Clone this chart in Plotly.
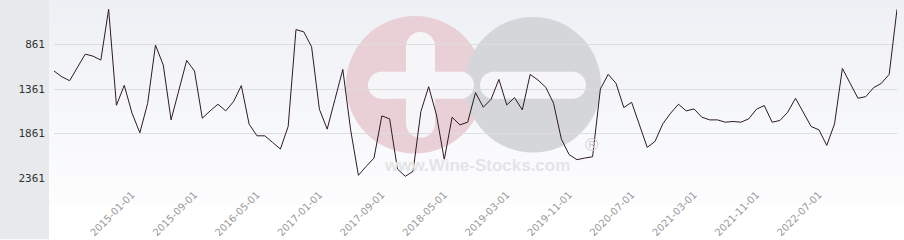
import pandas as pd
import plotly.graph_objects as go

# ---- data ----
RANK = [
    1159, 1223, 1268, 1111, 969, 992, 1036, 466, 1544, 1320,
    1633, 1853, 1521, 868, 1092, 1708, 1372, 1040, 1159, 1689,
    1607, 1532, 1607, 1503, 1323, 1756, 1887, 1887, 1961, 2036,
    1782, 693, 719, 887, 1588, 1812, 1476, 1141, 1820, 2331,
    2230, 2137, 1663, 1697, 2260, 2342, 2286, 1614, 1335, 1652,
    2155, 1678, 1764, 1734, 1402, 1566, 1476, 1253, 1540, 1458,
    1596, 1197, 1260, 1342, 1521, 1924, 2099, 2155, 2137, 2122,
    1361, 1196, 1297, 1570, 1510, 1764, 2017, 1950, 1752, 1633,
    1532, 1607, 1585, 1678, 1708, 1708, 1734, 1726, 1734, 1697,
    1588, 1547, 1734, 1715, 1622, 1465, 1626, 1782, 1820, 1995,
    1752, 1130, 1297, 1465, 1447, 1346, 1297, 1196, 466,
]

MISSING_MONTHS = ["2018-09-01", "2019-01-01"]
DATES = [d.strftime("%Y-%m-%d") for d in pd.date_range("2014-03-01", "2023-07-01", freq="MS")
         if d.strftime("%Y-%m-%d") not in MISSING_MONTHS][:len(RANK)]

X_TICKS = ["2015-01-01", "2015-09-01", "2016-05-01", "2017-01-01", "2017-09-01", "2018-05-01",
           "2019-03-01", "2019-11-01", "2020-07-01", "2021-03-01", "2021-11-01", "2022-07-01"]
Y_TICKS = [861, 1361, 1861, 2361]
Y_RANGE = [2361, 361]

# ---- geometry helpers (pixel -> paper) ----
W, H = 904, 240
L, R, T, B = 54, 7, 0, 61.5
PW, PH = W - L - R, H - T - B


def px(x):
    return (x - L) / PW


def py(y):
    return (T + PH - y) / PH


fig = go.Figure()
fig.add_trace(go.Scatter(
    x=DATES, y=RANK, mode="lines",
    line=dict(color="#2e1a24", width=1),
    hoverinfo="x+y", showlegend=False,
))

shapes = []
# left grey panel
shapes.append(dict(type="rect", xref="paper", yref="paper", x0=px(0), x1=px(49), y0=py(H), y1=py(0),
                   fillcolor="#e7eaed", line=dict(width=0), layer="below"))
# vertical background gradient
n = 25
top_c = (238, 240, 245)
bot_c = (253, 253, 254)
for i in range(n):
    y0 = i * 205 / n
    y1 = (i + 1) * 205 / n + 0.5
    t = i / (n - 1)
    c = tuple(int(round(top_c[k] + (bot_c[k] - top_c[k]) * t)) for k in range(3))
    shapes.append(dict(type="rect", xref="paper", yref="paper", x0=px(49), x1=px(W), y0=py(y1), y1=py(y0),
                       fillcolor="rgb(%d,%d,%d)" % c, line=dict(width=0), layer="below"))


def circle(cx, cy, r, color):
    return dict(type="circle", xref="paper", yref="paper", x0=px(cx - r), x1=px(cx + r),
                y0=py(cy + r), y1=py(cy - r), fillcolor=color, line=dict(width=0), layer="below")


def rect(x0, x1, y0, y1, color):
    return dict(type="rect", xref="paper", yref="paper", x0=px(x0), x1=px(x1),
                y0=py(y1), y1=py(y0), fillcolor=color, line=dict(width=0), layer="below")


def pill_h(x0, x1, yc, h, color):
    r = h / 2
    return [rect(x0 + r, x1 - r, yc - r, yc + r, color), circle(x0 + r, yc, r, color), circle(x1 - r, yc, r, color)]


def pill_v(xc, y0, y1, w, color):
    r = w / 2
    return [rect(xc - r, xc + r, y0 + r, y1 - r, color), circle(xc, y0 + r, r, color), circle(xc, y1 - r, r, color)]


PINK = "#e9d0d7"
GREY = "#d5d6d9"
BAR = "#f6f6f9"
shapes.append(circle(415, 85, 69, PINK))
shapes.append(circle(533, 85, 68, GREY))
shapes += pill_h(368, 474, 85.5, 27, BAR)
shapes += pill_v(420.5, 32, 138, 29, BAR)
shapes += pill_h(480, 586, 85.5, 27, BAR)

annotations = [
    dict(text="<b>www.Wine-Stocks.com</b>", xref="paper", yref="paper", x=px(477), y=py(166),
         showarrow=False, font=dict(family="Liberation Sans, Arial", size=17, color="#e4e4e7"),
         xanchor="center", yanchor="middle"),
    dict(text="®", xref="paper", yref="paper", x=px(591), y=py(145), showarrow=False,
         font=dict(family="Liberation Sans, Arial", size=18, color="#d3d3d6"),
         xanchor="center", yanchor="middle"),
]

fig.update_layout(
    width=W, height=H,
    margin=dict(l=L, r=R, t=T, b=B, pad=0),
    paper_bgcolor="white",
    plot_bgcolor="rgba(0,0,0,0)",
    shapes=shapes,
    annotations=annotations,
    showlegend=False,
    xaxis=dict(
        type="category", range=[0, len(RANK) - 1],
        tickmode="array", tickvals=X_TICKS, ticktext=X_TICKS,
        tickangle=-45, ticks="", showgrid=False, zeroline=False, showline=False,
        tickfont=dict(family="DejaVu Sans", size=10, color="#999999"),
        ticklabelstandoff=8,
    ),
    yaxis=dict(
        range=Y_RANGE, tickmode="array", tickvals=Y_TICKS, ticktext=[str(v) for v in Y_TICKS],
        showgrid=True, gridcolor="#dddddd", gridwidth=1, zeroline=False, showline=False, ticks="",
        tickfont=dict(family="DejaVu Sans Mono", size=11, color="#333333"),
        ticklabelstandoff=8,
    ),
)

fig.write_html("out.html")
